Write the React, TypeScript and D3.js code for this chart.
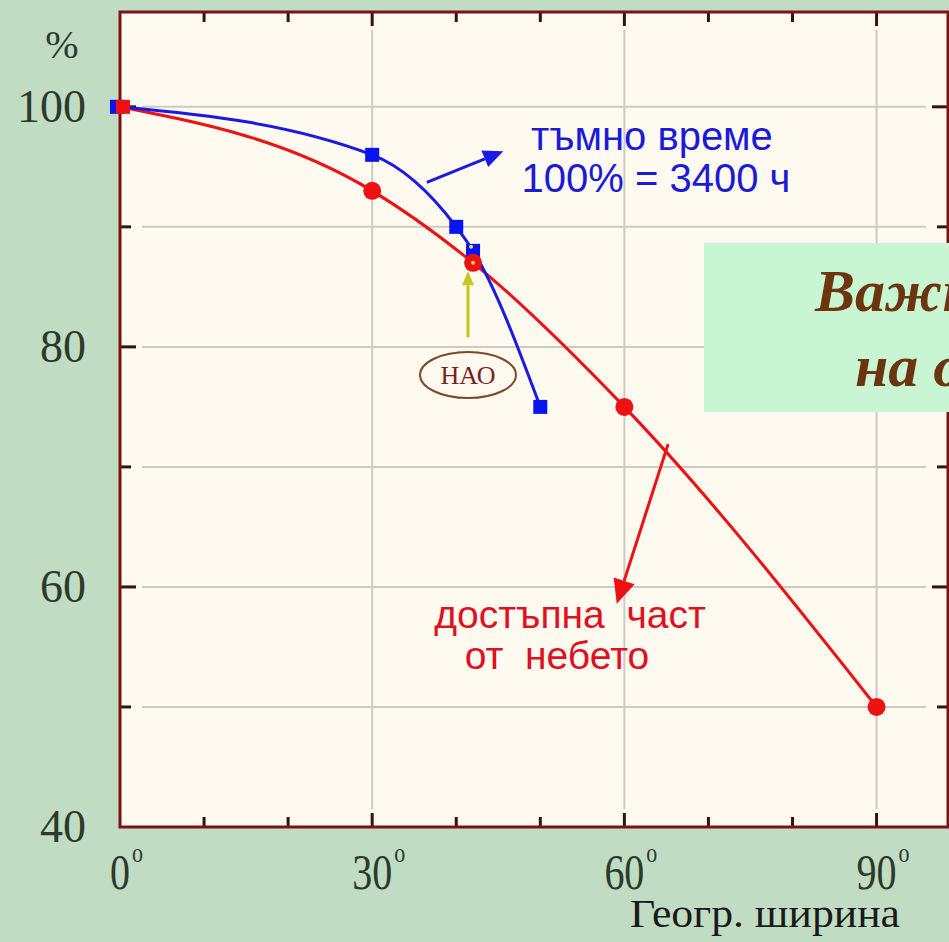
import React from "react";
import * as d3 from "d3";

const latitudes = [0, 30, 42, 60, 90];
const skyPercent = [100, 93, 87, 75, 50];
const darkLat = [0, 30, 40, 42, 50];
const darkPercent = [100, 96, 90, 88, 75];
const xTickLabels = [0, 30, 60, 90];
const yTickLabels = [40, 60, 80, 100];
const xTicks = [10, 20, 30, 40, 50, 60, 70, 80, 90];
const yTicks = [50, 60, 70, 80, 90, 100];

const W = 949, H = 942;
const L = 120, R = 948, T = 12, B = 827;

export default function App() {
  const x = d3.scaleLinear().domain([0, 98.5]).range([L, R]);
  const y = d3.scaleLinear().domain([40, 107.9]).range([B, T]);
  const line = d3.line<[number, number]>().x(d => x(d[0])).y(d => y(d[1])).curve(d3.curveMonotoneX);
  const red = latitudes.map((v, i) => [v, skyPercent[i]] as [number, number]);
  const blue = darkLat.map((v, i) => [v, darkPercent[i]] as [number, number]);
  const serif = "'Liberation Serif', 'DejaVu Serif', serif";
  const sans = "'Liberation Sans', Arial, sans-serif";
  const axisCol = "#7a1414";
  const grid = "#cbcbc3";
  const textCol = "#2c3a2c";

  const arrow = (x1: number, y1: number, x2: number, y2: number, col: string, key: string, w = 3, hl = 20, hw = 9) => {
    const dx = x2 - x1, dy = y2 - y1;
    const len = Math.hypot(dx, dy);
    const ux = dx / len, uy = dy / len;
    const bx = x2 - ux * hl, by = y2 - uy * hl;
    const px = -uy, py = ux;
    return (
      <g key={key}>
        <line x1={x1} y1={y1} x2={bx} y2={by} stroke={col} strokeWidth={w} />
        <polygon points={`${x2},${y2} ${bx + px * hw},${by + py * hw} ${bx - px * hw},${by - py * hw}`} fill={col} />
      </g>
    );
  };

  return (
    <svg width={W} height={H} style={{ position: "fixed", left: 0, top: 0 }}>
      <defs>
        <clipPath id="boxclip">
          <rect x={704} y={243} width={245} height={169} />
        </clipPath>
      </defs>
      <rect x={0} y={0} width={W} height={H} fill="#c0dcc2" />
      <rect x={L} y={T} width={R - L} height={B - T} fill="#fffaf0" />
      {/* gridlines */}
      {xTickLabels.filter(v => v > 0).map(v => (
        <line key={"gx" + v} x1={x(v)} x2={x(v)} y1={B - 18} y2={T + 18} stroke={grid} strokeWidth={2} />
      ))}
      {yTicks.map(v => (
        <line key={"gy" + v} x1={L + 22} x2={R - 22} y1={y(v)} y2={y(v)} stroke={grid} strokeWidth={2} />
      ))}
      {/* ticks */}
      {xTicks.map(v => {
        const len = v % 30 === 0 ? 14 : 10;
        return (
          <g key={"tx" + v}>
            <line x1={x(v)} x2={x(v)} y1={B} y2={B - len} stroke="#3a1010" strokeWidth={3} />
            <line x1={x(v)} x2={x(v)} y1={T} y2={T + len} stroke="#3a1010" strokeWidth={3} />
          </g>
        );
      })}
      {yTicks.map(v => {
        const len = v % 20 === 0 ? 16 : 11;
        return (
          <g key={"ty" + v}>
            <line x1={L} x2={L + len} y1={y(v)} y2={y(v)} stroke="#3a1010" strokeWidth={3} />
            <line x1={R} x2={R - len} y1={y(v)} y2={y(v)} stroke="#3a1010" strokeWidth={3} />
          </g>
        );
      })}
      <rect x={L} y={T} width={R - L} height={B - T} fill="none" stroke={axisCol} strokeWidth={3} />

      {/* green box (cut off by the picture edge, as in the original) */}
      <rect x={704} y={243} width={260} height={169} fill="#c9f6d2" />
      <g clipPath="url(#boxclip)">
        <text x={815} y={311} fontFamily={serif} fontStyle="italic" fontWeight="bold" fontSize={60} fill="#6b3510">Важност</text>
        <text x={855} y={386} fontFamily={serif} fontStyle="italic" fontWeight="bold" fontSize={60} fill="#6b3510">на обсерваторията</text>
      </g>

      {/* curves */}
      <path d={line(red) || ""} fill="none" stroke="#ee1111" strokeWidth={3} />
      <path d={line(blue) || ""} fill="none" stroke="#1a1ae6" strokeWidth={3} />
      {blue.map((d, i) => (
        <rect key={"b" + i} x={x(d[0]) - 7 - (i === 0 ? 3 : 0)} y={y(d[1]) - 7} width={14} height={14} fill="#0a14f0" />
      ))}
      {red.map((d, i) =>
        i === 0 ? (
          <rect key={"r" + i} x={x(d[0]) - 4} y={y(d[1]) - 7} width={14} height={14} fill="#ee1111" />
        ) : (
          <circle key={"r" + i} cx={x(d[0])} cy={y(d[1])} r={9} fill="#ee1111" />
        )
      )}
      <circle cx={x(42)} cy={y(87)} r={2} fill="#e8e040" />
      <circle cx={x(42) - 2} cy={y(88) - 4} r={2} fill="#e8e040" />

      {/* annotations */}
      {arrow(x(36.5), y(93.7), x(45.6), y(96.3), "#1a1ae6", "ab")}
      {arrow(x(65.2), y(71.9), x(59.1), y(58.6), "#ee1111", "ar", 3, 24, 11)}
      {arrow(x(41.4), y(80.8), x(41.4), y(86.3), "#c8c420", "ay", 3, 14, 6)}
      <ellipse cx={468} cy={375} rx={48} ry={23} fill="#fffaf0" stroke="#7a4a2a" strokeWidth={2} />
      <text x={468} y={384} textAnchor="middle" fontFamily={serif} fontSize={26} fill="#7a1f1f">НАО</text>

      <text x={652} y={150} textAnchor="middle" fontFamily={sans} fontSize={40} fill="#1a1ad8">тъмно време</text>
      <text x={656} y={192} textAnchor="middle" fontFamily={sans} fontSize={40} fill="#1a1ad8">100% = 3400 ч</text>
      <text x={570} y={628} textAnchor="middle" fontFamily={sans} fontSize={39} fill="#e01020" style={{ whiteSpace: "pre" }}>достъпна  част</text>
      <text x={557} y={669} textAnchor="middle" fontFamily={sans} fontSize={39} fill="#e01020" style={{ whiteSpace: "pre" }}>от  небето</text>

      {/* axis labels */}
      {yTickLabels.map(v => (
        <text key={"yl" + v} x={86} y={y(v) + 15} textAnchor="end" fontFamily={serif} fontSize={46} fill={textCol}>{v}</text>
      ))}
      <text x={62} y={58} textAnchor="middle" fontFamily={serif} fontSize={40} fill={textCol}>%</text>
      {xTickLabels.map(v => (
        <g key={"xl" + v} transform={`translate(${x(v)},${889}) scale(1,1.25)`}>
          <text x={0} y={0} textAnchor="middle" fontFamily={serif} fontSize={40} fill={textCol}>{v}</text>
          <text x={String(v).length * 10 + 2} y={-22} fontFamily={serif} fontSize={22} fill={textCol}>o</text>
        </g>
      ))}
      <text x={630} y={927} textLength={270} lengthAdjust="spacingAndGlyphs" fontFamily={serif} fontSize={40} fill="#1a1a1a">Геогр. ширина</text>
    </svg>
  );
}
